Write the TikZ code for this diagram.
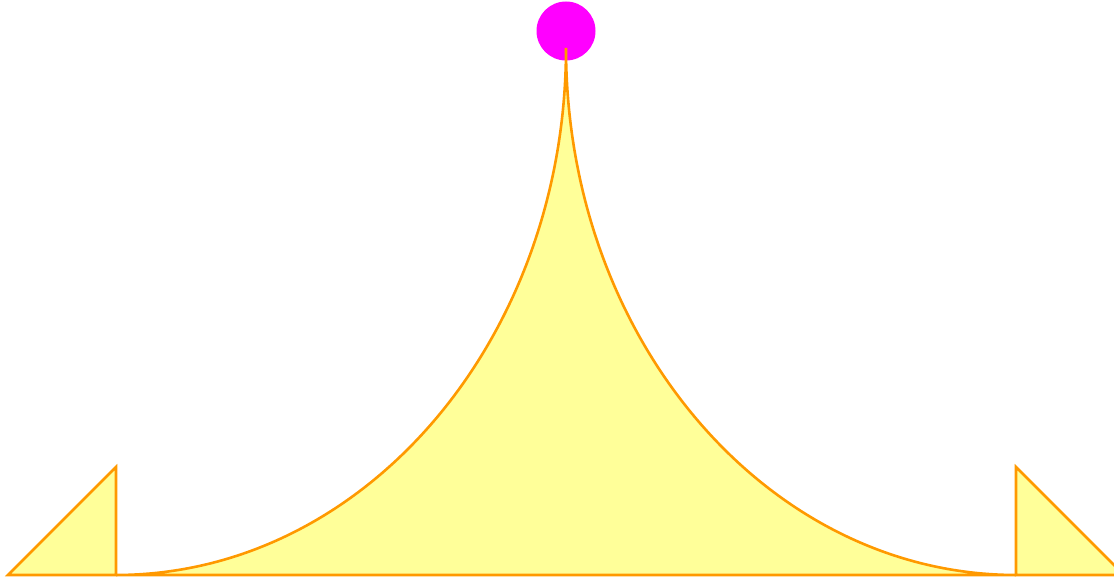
\documentclass[tikz,border=0pt]{standalone}
\usepackage{tikz}
\definecolor{edgeorange}{RGB}{255,153,0}
\definecolor{paleyellow}{RGB}{255,255,153}
\definecolor{dotmagenta}{RGB}{255,0,255}
\tikzset{
  tentshape/.style={draw=edgeorange, fill=paleyellow, line width=2.6pt, line join=miter},
  topdot/.style={fill=dotmagenta}
}
\begin{document}
\begin{tikzpicture}[x=1pt,y=1pt]
\useasboundingbox (0,0) rectangle (1114,579);
\clip (0,0) rectangle (1114,579);
% magenta dot
\fill[topdot] (566,548) circle[radius=29.5];
% left triangle
\draw[tentshape] (8,4) -- (116,112) -- (116,4) -- cycle;
% right triangle
\draw[tentshape] (1016,112) -- (1016,4) -- (1124,4) -- cycle;
% central cusp shape
\draw[tentshape] (116,4) arc[start angle=270, end angle=360, x radius=450, y radius=527]
  arc[start angle=180, end angle=270, x radius=450, y radius=527] -- cycle;
\end{tikzpicture}
\end{document}
